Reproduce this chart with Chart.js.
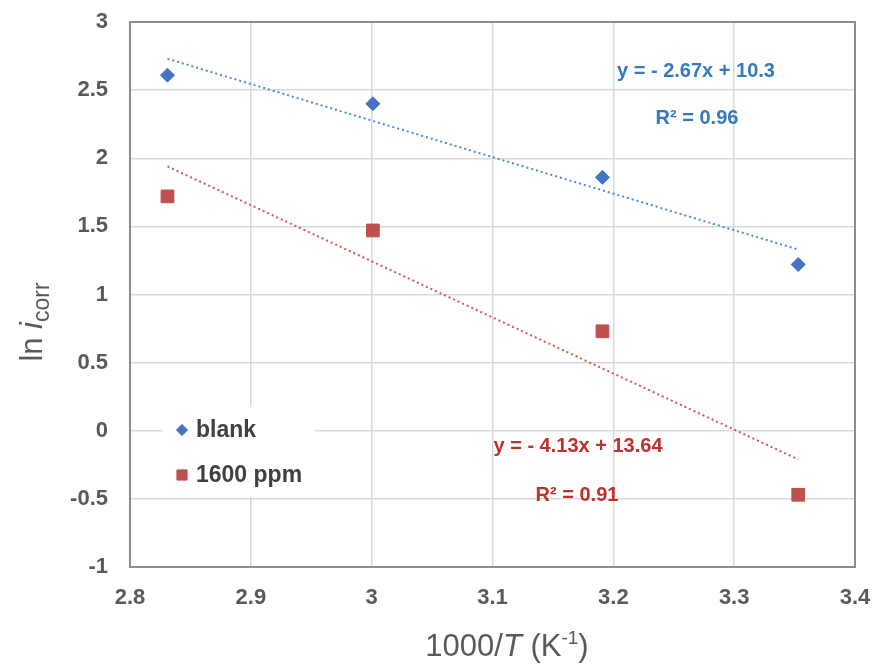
<!DOCTYPE html>
<html>
<head>
<meta charset="utf-8">
<script src="https://cdn.jsdelivr.net/npm/chart.js@4/dist/chart.umd.min.js"></script>
<style>
  html, body { margin: 0; padding: 0; background: #fff; }
  #wrap { width: 872px; height: 666px; }
</style>
</head>
<body>
<div id="wrap"><canvas id="chart" width="872" height="666"></canvas></div>
<script>
// values
const xTicks = [2.8, 2.9, 3.0, 3.1, 3.2, 3.3, 3.4];
const yTicks = [-1, -0.5, 0, 0.5, 1, 1.5, 2, 2.5, 3];
const invT = [2.831, 3.001, 3.191, 3.353];
const blankVals = [2.61, 2.40, 1.86, 1.22];
const ppmVals = [1.72, 1.47, 0.73, -0.47];
const trendX = [2.831, 3.353];
const blankTrend = [2.73, 1.33];
const ppmTrend = [1.94, -0.21];
const seriesNames = ['blank', '1600 ppm'];
const blankFit = ['y = - 2.67x + 10.3', 'R² = 0.96'];
const ppmFit = ['y = - 4.13x + 13.64', 'R² = 0.91'];

const BLUE = '#4472c4', RED = '#c0504d';
const GREY = '#595959';
const FAM = '"Liberation Sans", Arial, sans-serif';

const pts = (xs, ys) => xs.map((x, i) => ({ x, y: ys[i] }));

const overlay = {
  id: 'overlay',
  beforeDatasetsDraw(chart) {
    const { ctx, chartArea: a } = chart;
    ctx.save();
    // white legend box sits over the grid
    ctx.fillStyle = '#fff';
    ctx.fillRect(163, 407, 152, 90);
    ctx.strokeStyle = '#8c8c8c';
    ctx.lineWidth = 2;
    ctx.strokeRect(a.left, a.top, a.right - a.left, a.bottom - a.top);
    ctx.restore();
  },
  afterDatasetsDraw(chart) {
    const { ctx } = chart;
    ctx.save();
    // legend
    [[0, 430], [1, 475]].forEach(([di, yy]) => {
      const ds = chart.data.datasets[di];
      ctx.fillStyle = ds.backgroundColor;
      ctx.strokeStyle = ds.borderColor;
      ctx.lineWidth = 1;
      Chart.helpers.drawPoint(ctx, { pointStyle: ds.pointStyle, radius: ds.pointRadius * 0.8, borderWidth: 1 }, 182, yy);
      ctx.fillStyle = '#404040';
      ctx.font = 'bold 23px ' + FAM;
      ctx.textBaseline = 'middle';
      ctx.textAlign = 'left';
      ctx.fillText(ds.label, 196, yy + 1);
    });

    // trendline equations
    ctx.font = 'bold 20px ' + FAM;
    ctx.textAlign = 'center';
    ctx.textBaseline = 'middle';
    ctx.fillStyle = '#3579c2';
    ctx.fillText(blankFit[0], 696, 71);
    ctx.fillText(blankFit[1], 697, 118);
    ctx.fillStyle = '#c0302c';
    ctx.fillText(ppmFit[0], 578, 446);
    ctx.fillText(ppmFit[1], 577, 495);
    ctx.restore();
  },
  afterDraw(chart) {
    const { ctx } = chart;
    ctx.save();
    ctx.fillStyle = GREY;
    ctx.textBaseline = 'alphabetic';
    ctx.textAlign = 'left';

    // x title: 1000/T (K-1)
    const parts = [
      ['1000/', '31px ' + FAM, 0],
      ['T', 'italic 31px ' + FAM, 0],
      [' (K', '31px ' + FAM, 0],
      ['-1', '19px ' + FAM, -12],
      [')', '31px ' + FAM, 0]
    ];
    let w = 0;
    parts.forEach(p => { ctx.font = p[1]; w += ctx.measureText(p[0]).width; });
    let x = 507 - w / 2;
    parts.forEach(p => { ctx.font = p[1]; ctx.fillText(p[0], x, 656 + p[2]); x += ctx.measureText(p[0]).width; });

    // y title: ln i_corr
    ctx.translate(42, 322);
    ctx.rotate(-Math.PI / 2);
    const yp = [
      ['ln ', '31px ' + FAM, 0],
      ['i', 'italic 31px ' + FAM, 0],
      ['corr', '23px ' + FAM, 7]
    ];
    w = 0;
    yp.forEach(p => { ctx.font = p[1]; w += ctx.measureText(p[0]).width; });
    x = -w / 2;
    yp.forEach(p => { ctx.font = p[1]; ctx.fillText(p[0], x, p[2]); x += ctx.measureText(p[0]).width; });
    ctx.restore();
  }
};

new Chart(document.getElementById('chart'), {
  type: 'scatter',
  data: {
    datasets: [
      { label: seriesNames[0], data: pts(invT, blankVals), pointStyle: 'rectRot', pointRadius: 7, backgroundColor: BLUE, borderColor: BLUE, borderWidth: 1, order: 1 },
      { label: seriesNames[1], data: pts(invT, ppmVals), pointStyle: 'rect', pointRadius: 9, backgroundColor: RED, borderColor: RED, borderWidth: 1, order: 1 },
      { label: 'blank fit', type: 'line', data: pts(trendX, blankTrend), borderColor: '#4d8ad6', borderWidth: 2, borderDash: [2, 3], pointRadius: 0, fill: false, order: 2 },
      { label: '1600 ppm fit', type: 'line', data: pts(trendX, ppmTrend), borderColor: '#d9534f', borderWidth: 2, borderDash: [2, 3], pointRadius: 0, fill: false, order: 2 }
    ]
  },
  options: {
    responsive: false,
    animation: false,
    layout: { padding: { top: 22, right: 17, left: 0, bottom: 0 } },
    plugins: { legend: { display: false }, tooltip: { enabled: false } },
    scales: {
      x: {
        type: 'linear', min: 2.8, max: 3.4,
        afterBuildTicks: s => { s.ticks = xTicks.map(v => ({ value: v })); },
        afterFit: s => { s.height = 99; s.paddingLeft = 0; s.paddingRight = 0; },
        grid: { color: '#d9d9d9', lineWidth: 1.5, drawTicks: false },
        border: { display: false },
        ticks: { padding: 18, color: GREY, font: { family: FAM, size: 22, weight: 'bold' }, callback: v => String(v) }
      },
      y: {
        type: 'linear', min: -1, max: 3,
        afterBuildTicks: s => { s.ticks = yTicks.map(v => ({ value: v })); },
        afterFit: s => { s.width = 130; s.paddingTop = 0; s.paddingBottom = 0; },
        grid: { color: '#d9d9d9', lineWidth: 1.5, drawTicks: false },
        border: { display: false },
        ticks: { padding: 22, color: GREY, font: { family: FAM, size: 22, weight: 'bold' }, callback: v => String(v) }
      }
    }
  },
  plugins: [overlay]
});
</script>
</body>
</html>
